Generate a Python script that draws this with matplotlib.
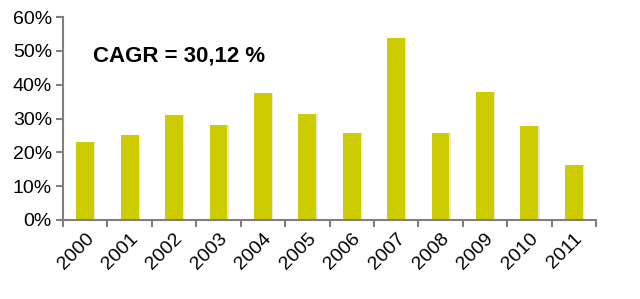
import matplotlib
matplotlib.use("Agg")
import matplotlib.pyplot as plt
from matplotlib.ticker import FixedLocator, PercentFormatter

years = ["2000", "2001", "2002", "2003", "2004", "2005", "2006", "2007", "2008", "2009", "2010", "2011"]
growth = [23.2, 25.1, 31.1, 28.1, 37.5, 31.3, 25.6, 53.9, 25.6, 37.9, 27.8, 16.3]

plt.rcParams['font.family'] = ['Liberation Sans', 'DejaVu Sans']

fig = plt.figure(figsize=(6.4, 2.99), dpi=100)
ax = fig.add_axes([63/640, 1-220/299, (596-63)/640, (220-17)/299])

x = list(range(len(years)))
# subtle shadow
ax.bar([i + 0.03 for i in x], growth, width=0.4, color="#e6e6e6", zorder=1)
ax.bar(x, growth, width=0.4, color="#CCCC00", zorder=2)

ax.set_xlim(-0.5, len(years) - 0.5)
ax.set_ylim(0, 60)
ax.set_yticks([0, 10, 20, 30, 40, 50, 60])
ax.yaxis.set_major_formatter(PercentFormatter(decimals=0))
ax.set_xticks(x)
ax.set_xticklabels(years, rotation=45, ha='right', rotation_mode='anchor', fontsize=14)
ax.tick_params(axis='x', which='major', length=0, pad=7)
ax.xaxis.set_minor_locator(FixedLocator([i - 0.5 for i in range(len(years) + 1)]))
ax.tick_params(axis='x', which='minor', length=5, width=1.5, color='#808080', direction='out')
ax.tick_params(axis='y', length=5, width=1.5, color='#808080', labelsize=14, pad=3)

for s in ['top', 'right']:
    ax.spines[s].set_visible(False)
for s in ['left', 'bottom']:
    ax.spines[s].set_color('#808080')
    ax.spines[s].set_linewidth(1.5)

ax.text(0.056, 0.81, "CAGR = 30,12 %", transform=ax.transAxes, fontsize=16,
        fontweight='bold', va='center', ha='left')

fig.savefig("out.png", dpi=100)
